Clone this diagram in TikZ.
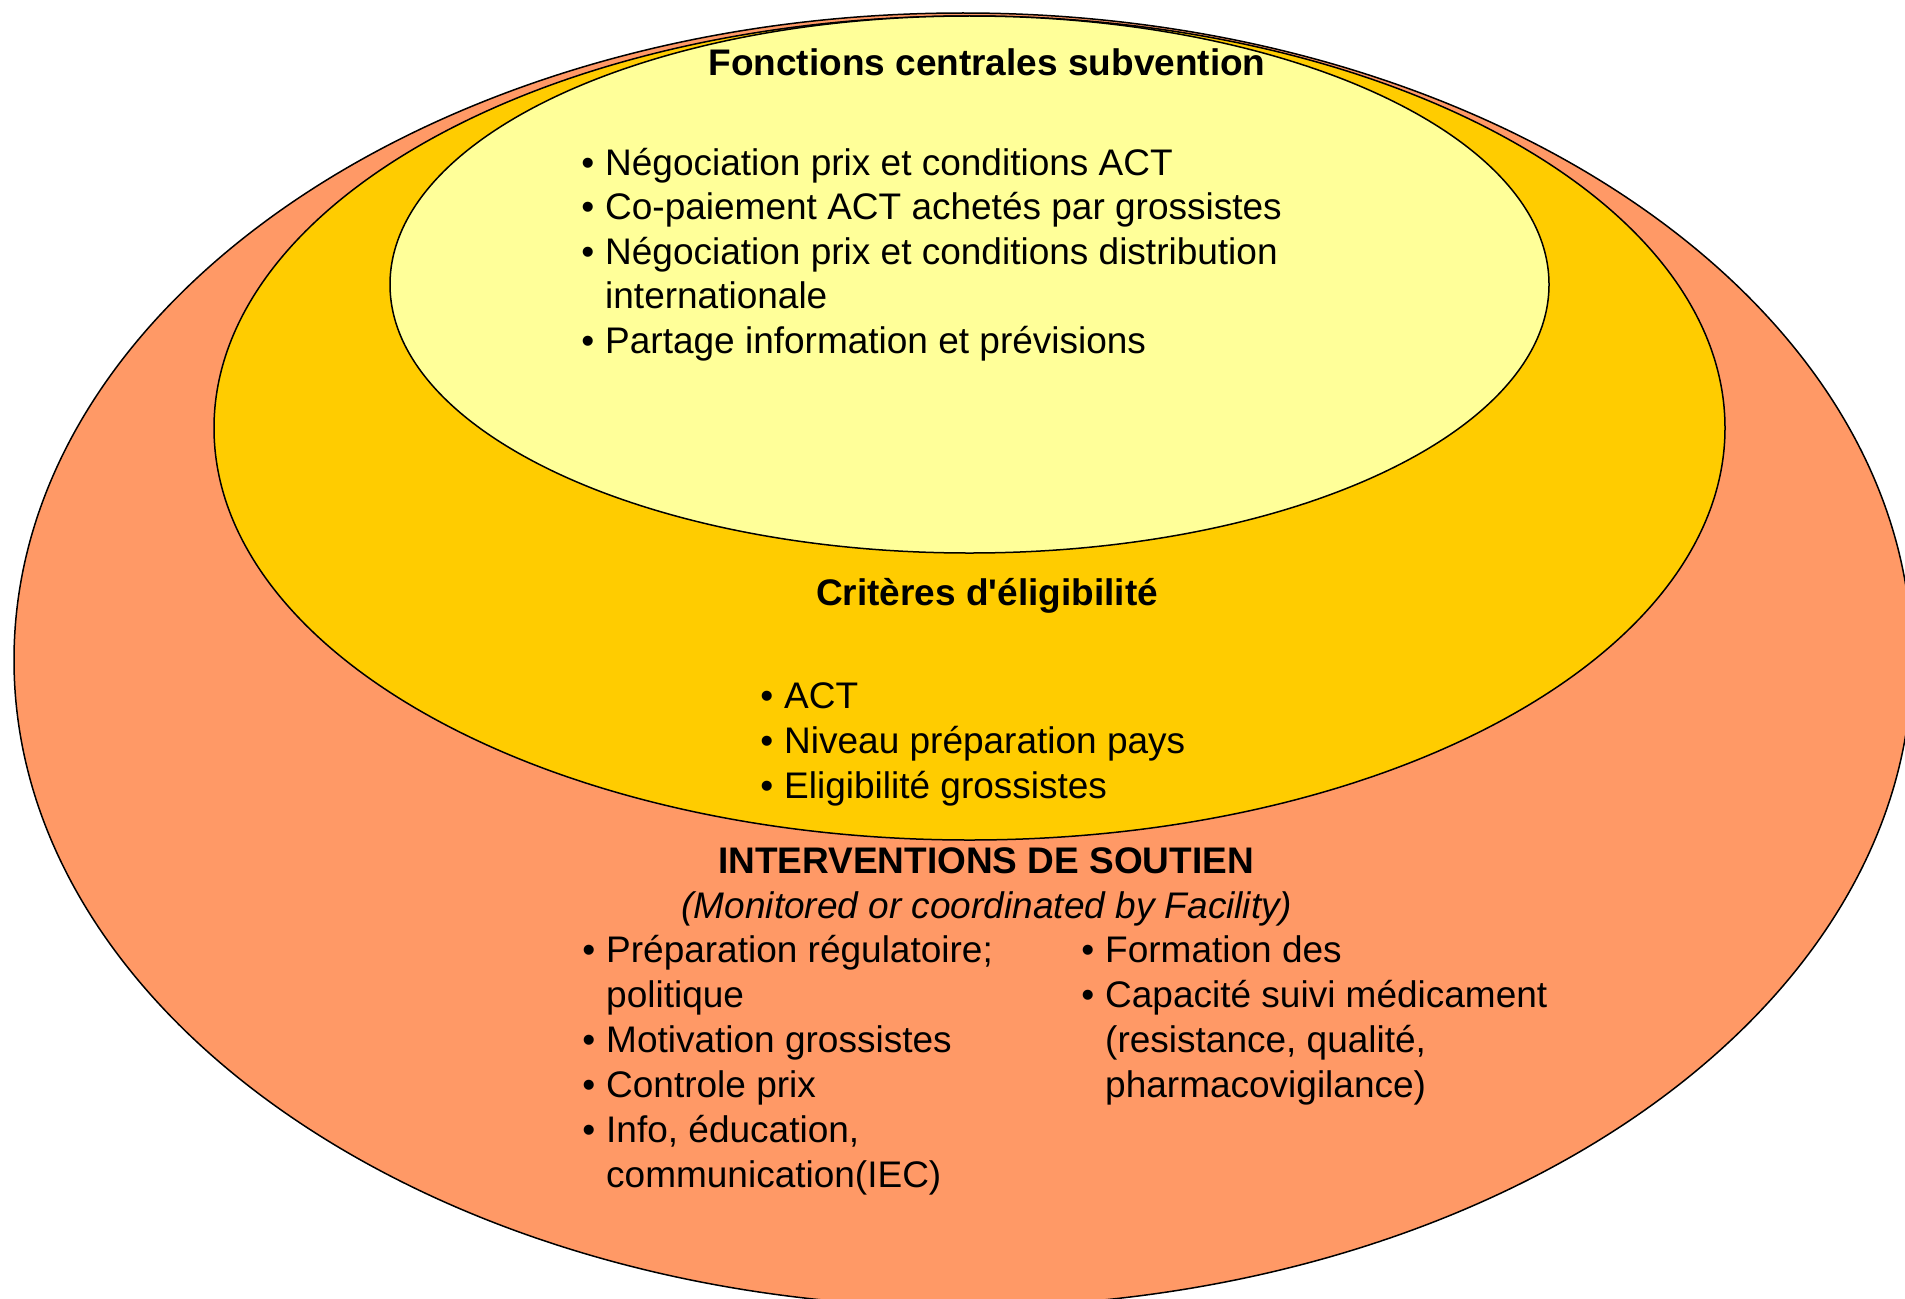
\documentclass[tikz,border=0pt]{standalone}
\usepackage{fontspec}
\setmainfont{Liberation Sans}
\newfontfamily\plainfam{Liberation Sans}
\definecolor{outerc}{HTML}{FF9966}
\definecolor{midc}{HTML}{FFCC00}
\definecolor{innerc}{HTML}{FFFF99}
\newcommand{\blt}{\llap{\textbullet\hspace{11pt}}}
\newcommand{\sq}{{\plainfam\symbol{39}}}
\begin{document}
\begin{tikzpicture}[x=1pt,y=-1pt,
  ring/.style={draw=black, line width=1.5pt},
  txt/.style={inner sep=0pt, anchor=base west, font=\fontsize{37}{45}\selectfont},
  head/.style={inner sep=0pt, anchor=base, font=\fontsize{37}{45}\selectfont\bfseries},
  sub/.style={inner sep=0pt, anchor=base, font=\fontsize{37}{45}\selectfont\itshape}]
\useasboundingbox (0,0) rectangle (1905,1298);
\begin{scope}
\clip (0,0) rectangle (1905,1298);
\draw[ring, fill=outerc] (963,660) ellipse [x radius=949, y radius=647];
\draw[ring, fill=midc] (969.5,428) ellipse [x radius=755.5, y radius=412];
\draw[ring, fill=innerc] (969.5,284.5) ellipse [x radius=579.5, y radius=268.5];
\end{scope}
% inner
\node[head] (h1) at (987,75) {Fonctions centrales subvention};
\node[txt] (a1) at (605,175) {\blt Négociation prix et conditions ACT};
\node[txt] (a2) at (605,219.6) {\blt Co-paiement ACT achetés par grossistes};
\node[txt] (a3) at (605,264.2) {\blt Négociation prix et conditions distribution};
\node[txt] (a3b) at (605,308.8) {internationale};
\node[txt] (a4) at (605,353.4) {\blt Partage information et prévisions};
% middle
\node[head] (h2) at (987,605) {Critères d\sq éligibilité};
\node[txt] (b1) at (784,708) {\blt ACT};
\node[txt] (b2) at (784,753) {\blt Niveau préparation pays};
\node[txt] (b3) at (784,798) {\blt Eligibilité grossistes};
% outer
\node[head] (h3) at (986,873) {INTERVENTIONS DE SOUTIEN};
\node[sub] (s3) at (987,918) {(Monitored or coordinated by Facility)};
\node[txt] (c1) at (606,962) {\blt Préparation régulatoire;};
\node[txt] (c1b) at (606,1007) {politique};
\node[txt] (c2) at (606,1052) {\blt Motivation grossistes};
\node[txt] (c3) at (606,1097) {\blt Controle prix};
\node[txt] (c4) at (606,1142) {\blt Info, éducation,};
\node[txt] (c4b) at (606,1187) {communication(IEC)};
\node[txt] (d1) at (1105,962) {\blt Formation des};
\node[txt] (d2) at (1105,1007) {\blt Capacité suivi médicament};
\node[txt] (d2b) at (1105,1052) {(resistance, qualité,};
\node[txt] (d2c) at (1105,1097) {pharmacovigilance)};
\end{tikzpicture}
\end{document}
